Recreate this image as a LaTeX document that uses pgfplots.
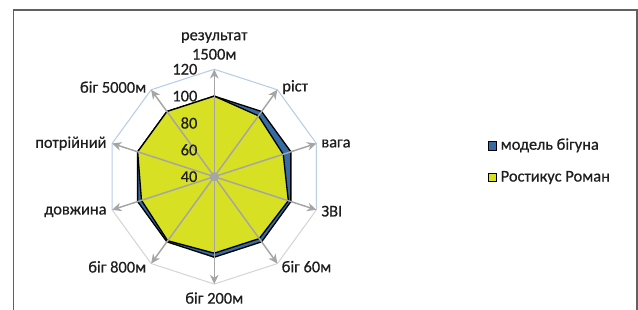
\documentclass[border=0pt]{standalone}
\usepackage{pgfplots}
\pgfplotsset{compat=1.18}
\usepackage{pgfplotstable}
\usepgfplotslibrary{polar}
\usetikzlibrary{arrows.meta}
\usepackage{fontspec}
\setmainfont{Carlito}[FakeBold=0.6]
\definecolor{modelblue}{HTML}{376BA3}
\definecolor{romanyellow}{HTML}{D7E022}
\definecolor{spoke}{HTML}{A5A5A5}
\definecolor{ringblue}{HTML}{B9CDE5}
\definecolor{ringgray}{HTML}{D6D6D6}
\definecolor{txt}{HTML}{1E1E1E}
\pgfplotstableread{
angle model roman
90 100 100
54 100 96
18 100 94
-18 100 98
-54 100 97
-90 100 97
-126 100 99
-162 100 97
-198 100 100
-234 100 100
-270 100 100
}\radar
\begin{document}
\begin{tikzpicture}[font=\fontsize{12.3}{14.5}\selectfont, text=txt]
\begin{polaraxis}[
  scale only axis, width=161.1pt, height=161.1pt,
  ymin=0, ymax=80,
  xtick=\empty, ytick=\empty,
  axis line style={draw=none},
  clip=false,
  legend style={draw=none, fill=none, inner sep=0pt, outer sep=0pt,
    at={(axis description cs:1.7725,0.570)}, anchor=west,
    nodes={inner sep=0pt, text height=9pt, text depth=3pt, font=\fontsize{12.3}{14.5}\selectfont},
    row sep=11.85pt, column sep=2.8pt},
  legend cell align=left,
  legend image code/.code={\draw[#1, draw=black, line width=0.6pt] (0pt,-3.2pt) rectangle (6.4pt,3.2pt);},
]
\coordinate (C) at (axis cs:0,0);
% outer ring (120)
\addplot[ringblue, line width=0.8pt, forget plot] coordinates {(-162,80) (-198,80) (-234,80) (-270,80) (54,80) (18,80) (-18,80)};
\addplot[ringgray, line width=0.8pt, forget plot] coordinates {(-18,80) (-54,80) (-90,80) (-126,80) (-162,80)};
% series
\addplot[fill=modelblue, draw=black, line width=1pt] table[x=angle, y expr=\thisrow{model}-40] {\radar};
\addlegendentry{модель бігуна}
\addplot[fill=romanyellow, draw=black, line width=1pt] table[x=angle, y expr=\thisrow{roman}-40] {\radar};
\addlegendentry{Ростикус Роман}
% spokes
\foreach \a in {90,54,18,-18,-54,-90,-126,-162,-198,-234}{
  \edef\tmp{\noexpand\addplot[spoke, line width=1.1pt, -{Stealth[length=7pt,width=6.5pt]}, forget plot] coordinates {(\a,0) (\a,80)};}
  \tmp
}
\addplot[only marks, mark=*, mark size=3.2pt, spoke, forget plot] coordinates {(0,0)};
% radial tick labels
\node[anchor=east, inner sep=0pt, xshift=-12.5pt] at (axis cs:90,0) {40};
\node[anchor=east, inner sep=0pt, xshift=-12.5pt] at (axis cs:90,20) {60};
\node[anchor=east, inner sep=0pt, xshift=-12.5pt] at (axis cs:90,40) {80};
\node[anchor=east, inner sep=0pt, xshift=-12.5pt] at (axis cs:90,60) {100};
\node[anchor=east, inner sep=0pt, xshift=-12.5pt] at (axis cs:90,80) {120};
% category labels
\node[anchor=south, inner sep=0pt, align=center, yshift=7pt] at (axis cs:90,80) {результат\\1500м};
\node[anchor=west, inner sep=0pt, xshift=3.5pt, yshift=2pt] at (axis cs:54,80) {ріст};
\node[anchor=west, inner sep=0pt, xshift=3.5pt] at (axis cs:18,80) {вага};
\node[anchor=west, inner sep=0pt, xshift=3.5pt, yshift=-1pt] at (axis cs:-18,80) {ЗВІ};
\node[anchor=west, inner sep=0pt, xshift=3pt, yshift=-2.3pt] at (axis cs:-54,80) {біг 60м};
\node[anchor=north, inner sep=0pt, yshift=-6pt] at (axis cs:-90,80) {біг 200м};
\node[anchor=east, inner sep=0pt, xshift=-3.5pt, yshift=-2.5pt] at (axis cs:-126,80) {біг 800м};
\node[anchor=east, inner sep=0pt, xshift=-4pt, yshift=-1.5pt] at (axis cs:-162,80) {довжина};
\node[anchor=east, inner sep=0pt, xshift=-4pt] at (axis cs:-198,80) {потрійний};
\node[anchor=east, inner sep=0pt, xshift=-3.5pt, yshift=2pt] at (axis cs:-234,80) {біг 5000м};
\end{polaraxis}
\pgfresetboundingbox
\useasboundingbox ([shift={(-160.7pt,-100pt)}]C) rectangle ([shift={(317.8pt,132.5pt)}]C);
\draw[line width=1.2pt, color=black!62] ([shift={(-150.6pt,-120pt)}]C) -- ([shift={(-150.6pt,125pt)}]C) -- ([shift={(317pt,125pt)}]C) -- ([shift={(317pt,-120pt)}]C);
\end{tikzpicture}
\end{document}
